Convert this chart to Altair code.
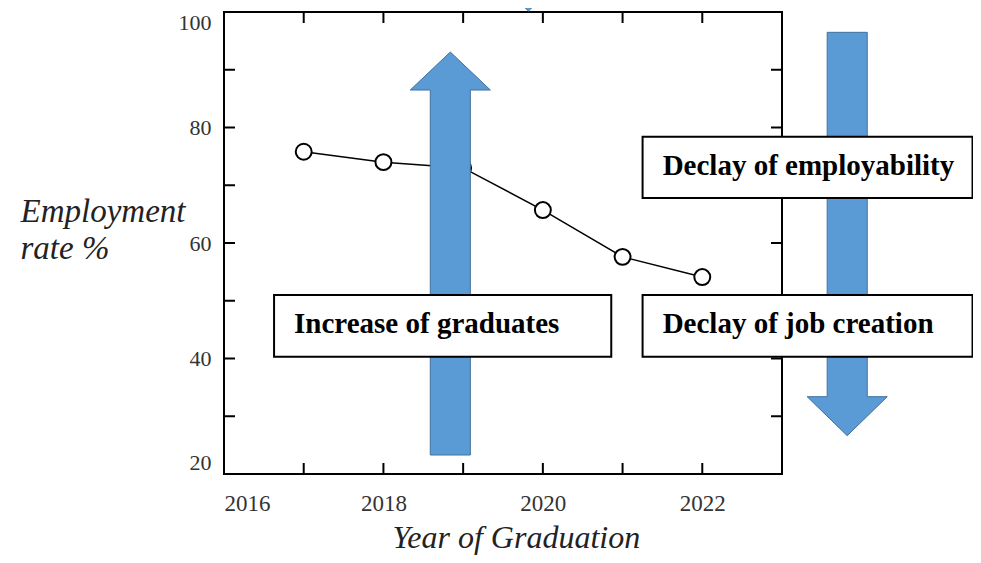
import altair as alt
import pandas as pd

# ---- data ----
years = [2017, 2018, 2019, 2020, 2021, 2022]
rates = [75.8, 74.0, 73.0, 65.7, 57.6, 54.1]

x_tick_years = [2017, 2018, 2019, 2020, 2021, 2022]
x_label_years = [2016, 2018, 2020, 2022]
y_tick_values = [30, 40, 50, 60, 70, 80, 90]
y_label_values = [20, 40, 60, 80, 100]

# annotation boxes (data units)
box_names = ["Increase of graduates", "Declay of job creation", "Declay of employability"]
box_x1 = [2016.628, 2021.251, 2021.251]
box_x2 = [2020.858, 2025.39, 2025.39]
box_y1 = [51.0, 51.0, 78.41]
box_y2 = [40.31, 40.31, 67.79]
text_x = [2016.879, 2021.503, 2021.503]
text_y = [44.36, 44.40, 71.77]

# block arrows (data units): centre, tail, head base, tip
arrow_names = ["up", "down", "top"]
arrow_cx = [2018.839, 2023.818, 2019.819]
arrow_tail = [23.29, 96.48, 118.0]
arrow_base = [86.49, 33.39, 106.75]
arrow_tip = [93.07, 26.63, 100.17]
shaft_half = 0.2513
head_half = 0.5025

W, H = 558, 462
FONT = "Liberation Serif"

line_df = pd.DataFrame({"year": years, "rate": rates})

rows = []
for n, cx, tail, base, tip in zip(arrow_names, arrow_cx, arrow_tail, arrow_base, arrow_tip):
    pts = [
        (cx - shaft_half, tail),
        (cx - shaft_half, base),
        (cx - head_half, base),
        (cx, tip),
        (cx + head_half, base),
        (cx + shaft_half, base),
        (cx + shaft_half, tail),
        (cx - shaft_half, tail),
    ]
    for i, (xx, yy) in enumerate(pts):
        rows.append({"arrow": n, "o": i, "x": xx, "y": yy})
arrow_df = pd.DataFrame(rows)

box_df = pd.DataFrame({"name": box_names, "x": box_x1, "x2": box_x2, "y": box_y1, "y2": box_y2})
text_df = pd.DataFrame({"name": box_names, "x": text_x, "y": text_y})

xscale = alt.Scale(domain=[2016, 2023], nice=False, zero=False)
yscale = alt.Scale(domain=[20, 100], nice=False, zero=False)

x_axis = alt.Axis(
    values=x_label_years, format="d", labelFlush=True, ticks=False, domain=False, grid=False,
    labelFont=FONT, labelFontSize=23, labelColor="#333333", labelPadding=18,
    title="Year of Graduation", titleFont=FONT, titleFontSize=32, titleFontStyle="italic",
    titleFontWeight="normal", titleColor="#222222", titleX=291.8, titleY=73,
    titleBaseline="alphabetic", titleAlign="center",
)
y_axis = alt.Axis(
    values=y_label_values, labelFlush=True, ticks=False, domain=False, grid=False,
    labelFont=FONT, labelFontSize=22, labelColor="#333333", labelPadding=13,
    title=["Employment", "rate %"], titleFont=FONT, titleFontSize=33, titleFontStyle="italic",
    titleFontWeight="normal", titleColor="#222222", titleAngle=0, titleAlign="left",
    titleBaseline="alphabetic", titleX=-204, titleY=209.7, titleLineHeight=37,
)

base = alt.Chart(line_df)

line = base.mark_line(color="black", strokeWidth=1.5).encode(
    x=alt.X("year:Q", scale=xscale, axis=x_axis),
    y=alt.Y("rate:Q", scale=yscale, axis=y_axis),
)
points = base.mark_point(shape="circle", filled=True, fill="white", stroke="black",
                         strokeWidth=2, size=254, opacity=1).encode(
    x=alt.X("year:Q", scale=xscale),
    y=alt.Y("rate:Q", scale=yscale),
)

xt_df = pd.DataFrame({"year": x_tick_years})
yt_df = pd.DataFrame({"v": y_tick_values})
TL = 11
tick_b = alt.Chart(xt_df).mark_rule(color="black", strokeWidth=2).encode(
    x=alt.X("year:Q", scale=xscale), y=alt.value(H), y2=alt.value(H - TL))
tick_t = alt.Chart(xt_df).mark_rule(color="black", strokeWidth=2).encode(
    x=alt.X("year:Q", scale=xscale), y=alt.value(0), y2=alt.value(TL))
tick_l = alt.Chart(yt_df).mark_rule(color="black", strokeWidth=2).encode(
    y=alt.Y("v:Q", scale=yscale), x=alt.value(0), x2=alt.value(TL))
tick_r = alt.Chart(yt_df).mark_rule(color="black", strokeWidth=2).encode(
    y=alt.Y("v:Q", scale=yscale), x=alt.value(W - TL), x2=alt.value(W))

arrows = alt.Chart(arrow_df).mark_line(
    fill="#5B9BD5", stroke="#41719C", strokeWidth=1, opacity=1,
    interpolate="linear-closed", clip=False,
).encode(
    x=alt.X("x:Q", scale=xscale),
    y=alt.Y("y:Q", scale=yscale),
    detail="arrow:N",
    order="o:Q",
)

boxes = alt.Chart(box_df).mark_rect(fill="white", stroke="black", strokeWidth=2).encode(
    x=alt.X("x:Q", scale=xscale), x2="x2:Q",
    y=alt.Y("y:Q", scale=yscale), y2="y2:Q",
)
texts = alt.Chart(text_df).mark_text(
    align="left", baseline="alphabetic", font=FONT, fontWeight="bold", fontSize=29, color="black"
).encode(
    x=alt.X("x:Q", scale=xscale), y=alt.Y("y:Q", scale=yscale), text="name:N",
)

chart = alt.layer(
    line, points, tick_b, tick_t, tick_l, tick_r, arrows, boxes, texts
).properties(
    width=W, height=H,
    autosize=alt.AutoSizeParams(type="none"),
    padding={"left": 216, "top": 4, "right": 191, "bottom": 81},
).configure_view(stroke="black", strokeWidth=2)

chart.save("out.html", embed_options={"renderer": "svg", "actions": False})
